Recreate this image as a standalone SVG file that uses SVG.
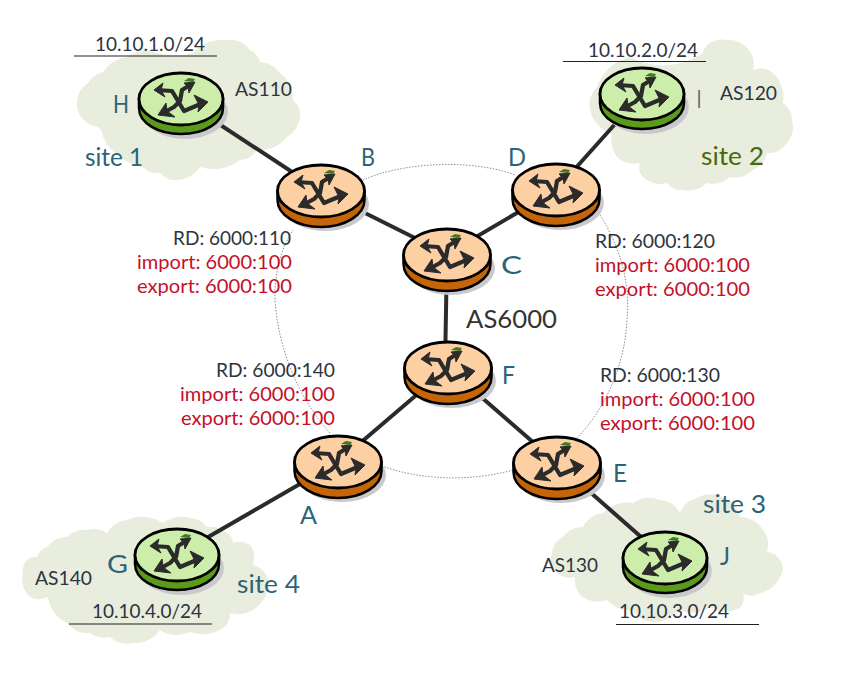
<svg xmlns="http://www.w3.org/2000/svg" xmlns:xlink="http://www.w3.org/1999/xlink" width="852" height="677" viewBox="0 0 852 677">
<style>
text{font-family:"Lato","Open Sans","Liberation Sans",sans-serif;fill:#333}
.r{font-size:19px;fill:#c4102a}
.l{font-size:25px;fill:#2b6479}
.k{font-size:19px;fill:#2c3440}
.cloud{fill:#e9eddd;stroke:none}
.link{stroke:#2b2b2b;stroke-width:4;fill:none}
.ring{stroke:#8f8f8f;stroke-width:1;stroke-dasharray:1.5 1.5;fill:none}
.ul{stroke:#222;stroke-width:1.2}
.g{fill:none;stroke:#2b2b2b;stroke-width:4.200;stroke-linejoin:round}
.h{fill:#2b2b2b;stroke:#2b2b2b;stroke-width:1;stroke-linejoin:round}
</style>
<defs>
<g id="glyph">
<path d="M3-18L8-21L14-20L12-17Z" fill="#3f7a1e"/>
<path class="g" d="M-24-9L-9-8L3 12L22 4M9-14L1-9L-1 2L-7 8L-18 14"/>
<path class="h" d="M-27-9L-18-16L-20-9L-16-2ZM27 3L13-4L18 6L17 13ZM14-17L3-16L7-12L8-6ZM-23 16L-15 4L-14 12L-6 18Z"/>
</g>
<g id="router-o">
<ellipse cx="4" cy="13" rx="44" ry="27" fill="#c9c9cd"/>
<path d="M-43.500 0V9C-43.500 24 -24 36 0 36S43.500 24 43.500 9V0Z" fill="#c4650a" stroke="#000" stroke-width="2.500"/>
<ellipse cx="0" cy="0" rx="43.500" ry="26" fill="#fdd0a4" stroke="#000" stroke-width="2.800"/>
<use xlink:href="#glyph"/>
</g>
<g id="router-g">
<ellipse cx="4" cy="13" rx="43" ry="27" fill="#c9c9cd"/>
<path d="M-42 0V9C-42 24 -23 35 0 35S42 24 42 9V0Z" fill="#5c9a1c" stroke="#000" stroke-width="2.500"/>
<ellipse cx="0" cy="0" rx="42" ry="26" fill="#cdeeaa" stroke="#000" stroke-width="2.800"/>
<use xlink:href="#glyph"/>
</g>
</defs>
<rect width="852" height="677" fill="#fff"/>
<g id="clouds">
<path class="cloud" d="M77 100A24 24 0 0 1 88 83A24 24 0 0 1 103 72A34 34 0 0 1 127 57A34 34 0 0 1 157 53A60 60 0 0 0 193 53A38 38 0 0 1 227 40A24 24 0 0 1 250 50A18 18 0 0 1 260 62A26 26 0 0 1 280 73A34 34 0 0 1 293 100A20 20 0 0 1 300 117A28 28 0 0 1 287 137A36 36 0 0 1 257 150A22 22 0 0 1 240 160A44 44 0 0 1 200 167A30 30 0 0 1 177 180A20 20 0 0 1 160 173A20 20 0 0 1 143 167A55 55 0 0 1 103 137A12 12 0 0 0 98 127A24 24 0 0 1 77 100Z"/>
<path class="cloud" d="M590 110A26 26 0 0 1 597 87A46 46 0 0 1 630 57A70 70 0 0 0 703 53A14 14 0 0 1 707 45A24 24 0 0 1 727 40A24 24 0 0 1 747 48A24 24 0 0 1 753 70A20 20 0 0 1 773 73A34 34 0 0 1 783 103A22 22 0 0 1 792 120A25 25 0 0 1 787 143A22 22 0 0 1 767 153A24 24 0 0 1 753 170A26 26 0 0 1 730 177A26 26 0 0 1 707 183A28 28 0 0 1 683 190A18 18 0 0 1 667 183A26 26 0 0 1 643 177A14 14 0 0 1 640 163A26 26 0 0 1 617 157A30 30 0 0 1 612 133A30 30 0 0 1 590 110Z"/>
<path class="cloud" d="M23 573A16 16 0 0 1 27 560A12 12 0 0 1 37 557A16 16 0 0 1 47 547A26 26 0 0 1 67 537A24 24 0 0 1 87 530A24 24 0 0 1 107 533A26 26 0 0 1 127 520A38 38 0 0 1 163 523A32 32 0 0 1 190 518A22 22 0 0 1 207 527A24 24 0 0 1 227 533A12 12 0 0 1 233 543A20 20 0 0 1 250 545A22 22 0 0 1 253 565A20 20 0 0 1 268 580A32 32 0 0 1 257 607A30 30 0 0 1 230 613A18 18 0 0 1 223 628A36 36 0 0 1 190 632A30 30 0 0 1 160 630A32 32 0 0 1 133 643A26 26 0 0 1 110 637A24 24 0 0 1 90 633A26 26 0 0 1 67 623A34 34 0 0 1 48 597A20 20 0 0 1 30 597A24 24 0 0 1 23 573Z"/>
<path class="cloud" d="M552 553A20 20 0 0 1 563 537A24 24 0 0 1 583 527A26 26 0 0 1 603 513A34 34 0 0 1 633 503A28 28 0 0 1 660 500A24 24 0 0 1 680 513A24 24 0 0 1 697 498A26 26 0 0 1 723 498A26 26 0 0 1 740 517A28 28 0 0 1 763 530A24 24 0 0 1 767 552A16 16 0 0 1 780 560A14 14 0 0 1 780 577A28 28 0 0 1 760 593A16 16 0 0 1 743 593A16 16 0 0 1 740 608A32 32 0 0 1 710 607A36 36 0 0 1 677 610A28 28 0 0 1 653 622A24 24 0 0 1 633 610A30 30 0 0 1 607 600A26 26 0 0 1 583 597A22 22 0 0 1 575 577A20 20 0 0 1 557 573A20 20 0 0 1 552 553Z"/>
</g>
<g id="connectors">
<path class="ring" d="M363 180C400 163 470 158 515 175M600 215C622 250 630 285 627 320C625 365 605 410 575 440M513 470C470 482 420 480 382 466M330 433C300 400 278 350 275 300C274 270 283 245 293 230"/>
<path class="link" d="M181 99L321 191"/>
<path class="link" d="M321 191L447 254"/>
<path class="link" d="M447 254L556 190"/>
<path class="link" d="M556 190L642 94"/>
<path class="link" d="M447 254L445 368"/>
<path class="link" d="M448 368L338 462"/>
<path class="link" d="M448 368L557 463"/>
<path class="link" d="M338 462L177 555"/>
<path class="link" d="M557 463L665 558"/>
</g>
<g id="node-B"><use xlink:href="#router-o" x="321" y="191"/><text class="l" x="361" y="166" textLength="14" lengthAdjust="spacingAndGlyphs">B</text></g>
<g id="node-C"><use xlink:href="#router-o" x="447" y="255"/><text class="l" x="501" y="274" textLength="21" lengthAdjust="spacingAndGlyphs">C</text></g>
<g id="node-D"><use xlink:href="#router-o" x="556" y="190"/><text class="l" x="508" y="166" textLength="18" lengthAdjust="spacingAndGlyphs">D</text></g>
<g id="node-F"><use xlink:href="#router-o" x="448" y="368"/><text class="l" x="502" y="384" textLength="13" lengthAdjust="spacingAndGlyphs">F</text></g>
<g id="node-A"><use xlink:href="#router-o" x="338" y="462"/><text class="l" x="300" y="524" textLength="17" lengthAdjust="spacingAndGlyphs">A</text></g>
<g id="node-E"><use xlink:href="#router-o" x="557" y="463"/><text class="l" x="613" y="482" textLength="14" lengthAdjust="spacingAndGlyphs">E</text></g>
<g id="node-H"><use xlink:href="#router-g" x="181" y="99"/><text class="l" x="113" y="113" textLength="16" lengthAdjust="spacingAndGlyphs">H</text></g>
<g id="node-I"><use xlink:href="#router-g" x="642" y="94"/><text class="l" x="697" y="108" textLength="4" lengthAdjust="spacingAndGlyphs">I</text></g>
<g id="node-G"><use xlink:href="#router-g" x="177" y="555"/><text class="l" x="107" y="573" textLength="21" lengthAdjust="spacingAndGlyphs">G</text></g>
<g id="node-J"><use xlink:href="#router-g" x="665" y="558"/><text class="l" x="720" y="565" textLength="10" lengthAdjust="spacingAndGlyphs">J</text></g>
<g id="labels">
<path class="ul" d="M74 56H217M563 61.500H706M69 624H212M616 624.500H759"/>
<text class="k" x="95" y="51" textLength="110" lengthAdjust="spacingAndGlyphs">10.10.1.0/24</text>
<text class="k" x="588" y="57" textLength="110" lengthAdjust="spacingAndGlyphs">10.10.2.0/24</text>
<text class="k" x="92" y="618" textLength="110" lengthAdjust="spacingAndGlyphs">10.10.4.0/24</text>
<text class="k" x="619" y="618" textLength="110" lengthAdjust="spacingAndGlyphs">10.10.3.0/24</text>
<text class="k" x="235" y="96" textLength="57" lengthAdjust="spacingAndGlyphs">AS110</text>
<text class="k" x="720" y="100" textLength="57" lengthAdjust="spacingAndGlyphs">AS120</text>
<text class="k" x="35" y="585" textLength="57" lengthAdjust="spacingAndGlyphs">AS140</text>
<text class="k" x="542" y="572" textLength="56" lengthAdjust="spacingAndGlyphs">AS130</text>
<text class="l" x="85" y="166" textLength="58" lengthAdjust="spacingAndGlyphs">site 1</text>
<text class="l" x="701" y="165" textLength="63" lengthAdjust="spacingAndGlyphs" style="fill:#48690f">site 2</text>
<text class="l" x="703" y="513" textLength="63" lengthAdjust="spacingAndGlyphs">site 3</text>
<text class="l" x="237" y="593" textLength="63" lengthAdjust="spacingAndGlyphs">site 4</text>
<text class="l" x="466" y="328" textLength="91" lengthAdjust="spacingAndGlyphs" style="fill:#333">AS6000</text>
<text class="k" x="173" y="245" textLength="118" lengthAdjust="spacingAndGlyphs">RD: 6000:110</text>
<text class="r" x="137" y="269" textLength="155" lengthAdjust="spacingAndGlyphs">import: 6000:100</text>
<text class="r" x="137" y="293" textLength="155" lengthAdjust="spacingAndGlyphs">export: 6000:100</text>
<text class="k" x="216" y="377" textLength="119" lengthAdjust="spacingAndGlyphs">RD: 6000:140</text>
<text class="r" x="180" y="401" textLength="155" lengthAdjust="spacingAndGlyphs">import: 6000:100</text>
<text class="r" x="181" y="425" textLength="154" lengthAdjust="spacingAndGlyphs">export: 6000:100</text>
<text class="k" x="595" y="248" textLength="120" lengthAdjust="spacingAndGlyphs">RD: 6000:120</text>
<text class="r" x="595" y="272" textLength="155" lengthAdjust="spacingAndGlyphs">import: 6000:100</text>
<text class="r" x="595" y="296" textLength="155" lengthAdjust="spacingAndGlyphs">export: 6000:100</text>
<text class="k" x="600" y="382" textLength="120" lengthAdjust="spacingAndGlyphs">RD: 6000:130</text>
<text class="r" x="600" y="406" textLength="155" lengthAdjust="spacingAndGlyphs">import: 6000:100</text>
<text class="r" x="600" y="430" textLength="155" lengthAdjust="spacingAndGlyphs">export: 6000:100</text>
</g>
</svg>
